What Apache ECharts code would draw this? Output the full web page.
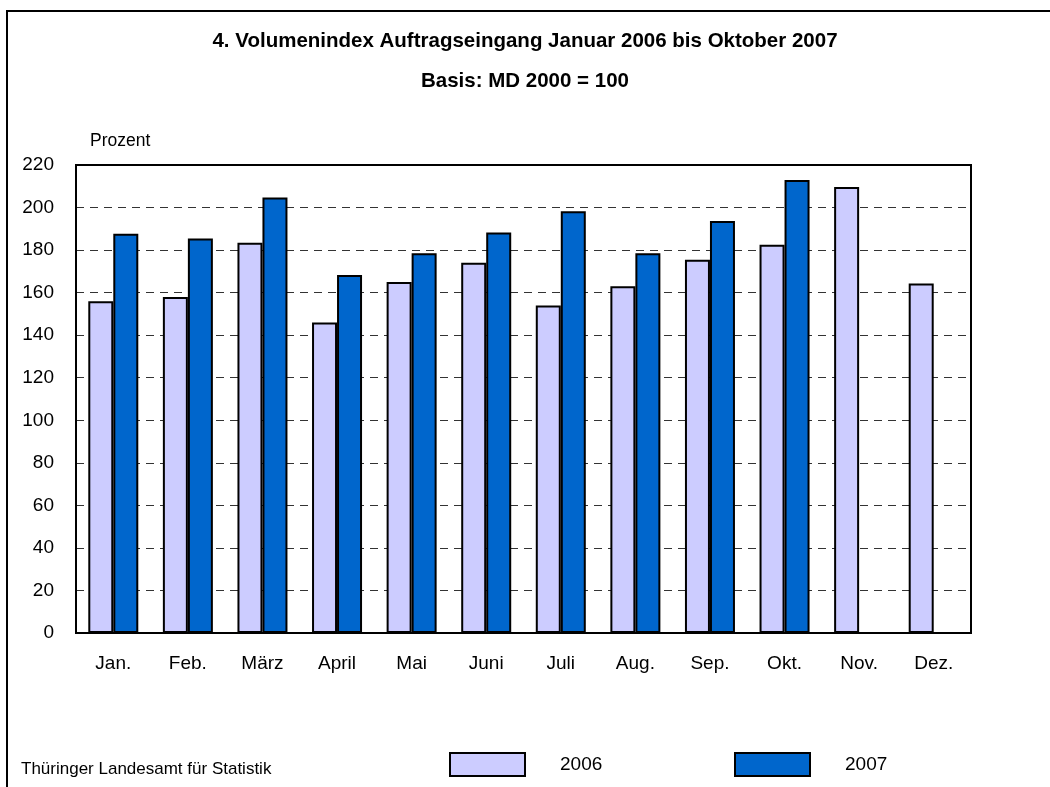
<!DOCTYPE html>
<html>
<head>
<meta charset="utf-8">
<script src="https://cdn.jsdelivr.net/npm/echarts@6/dist/echarts.min.js"></script>
<style>html,body{margin:0;padding:0;background:#fff}#c{width:1050px;height:787px}</style>
</head>
<body>
<div id="c"></div>
<script>
const categories = ['Jan.', 'Feb.', 'März', 'April', 'Mai', 'Juni', 'Juli', 'Aug.', 'Sep.', 'Okt.', 'Nov.', 'Dez.'];
const values2006 = [156, 158, 183.5, 146, 165, 174, 154, 163, 175.5, 182.5, 209.7, 164.3];
const values2007 = [187.7, 185.5, 204.7, 168.3, 178.5, 188.3, 198.3, 178.5, 193.7, 212.9, null, null];
const yTicks = [0, 20, 40, 60, 80, 100, 120, 140, 160, 180, 200, 220];

const font = 'Liberation Sans, Arial, sans-serif';
const chart = echarts.init(document.getElementById('c'));
chart.setOption({
  animation: false,
  backgroundColor: '#fff',
  textStyle: { fontFamily: font },
  title: [
    { text: '4. Volumenindex Auftragseingang Januar 2006 bis Oktober 2007', left: 'center', top: 31, padding: 0,
      textStyle: { fontSize: 20.5, fontWeight: 'bold', color: '#000', fontFamily: font } },
    { text: 'Basis: MD 2000 = 100', left: 'center', top: 71, padding: 0,
      textStyle: { fontSize: 20.5, fontWeight: 'bold', color: '#000', fontFamily: font } },
    { text: 'Prozent', left: 90, top: 132, padding: 0,
      textStyle: { fontSize: 17.5, fontWeight: 'normal', color: '#000', fontFamily: font } },
    { text: 'Thüringer Landesamt für Statistik', left: 21, top: 761, padding: 0,
      textStyle: { fontSize: 17, fontWeight: 'normal', color: '#000', fontFamily: font } }
  ],
  graphic: [
    { type: 'polyline', z: 100, shape: { points: [[1050, 11], [7, 11], [7, 787]] },
      style: { stroke: '#000', lineWidth: 2, fill: null } }
  ],
  legend: [
    { data: ['2006'], left: 449, top: 752, padding: 0, itemWidth: 75, itemHeight: 23, itemGap: 0, icon: 'rect',
      textStyle: { fontSize: 19, color: '#000', padding: [0, 0, 0, 30], fontFamily: font } },
    { data: ['2007'], left: 734, top: 752, padding: 0, itemWidth: 75, itemHeight: 23, itemGap: 0, icon: 'rect',
      textStyle: { fontSize: 19, color: '#000', padding: [0, 0, 0, 30], fontFamily: font } }
  ],
  grid: { left: 76, right: 79, top: 165, bottom: 154, containLabel: false, show: true,
          borderColor: '#000', borderWidth: 2, backgroundColor: 'transparent', z: 5 },
  xAxis: {
    type: 'category', data: categories,
    axisLine: { show: true, lineStyle: { color: '#000', width: 2 } },
    axisTick: { show: false },
    axisLabel: { color: '#000', fontSize: 19, margin: 21, fontFamily: font }
  },
  yAxis: {
    type: 'value', min: 0, max: 220, interval: 20,
    axisLine: { show: true, lineStyle: { color: '#000', width: 2 } },
    axisTick: { show: false },
    axisLabel: { color: '#000', fontSize: 19, margin: 22, fontFamily: font,
      formatter: v => yTicks.includes(v) ? String(v) : '' },
    splitLine: { show: true, lineStyle: { color: '#333', type: [8, 6], width: 1 } }
  },
  series: [
    { name: '2006', type: 'bar', data: values2006, barWidth: 25, barGap: '0%',
      itemStyle: { color: '#CCCCFF', borderColor: '#000', borderWidth: 2 } },
    { name: '2007', type: 'bar', data: values2007, barWidth: 25,
      itemStyle: { color: '#0066CC', borderColor: '#000', borderWidth: 2 } }
  ]
});
</script>
</body>
</html>
